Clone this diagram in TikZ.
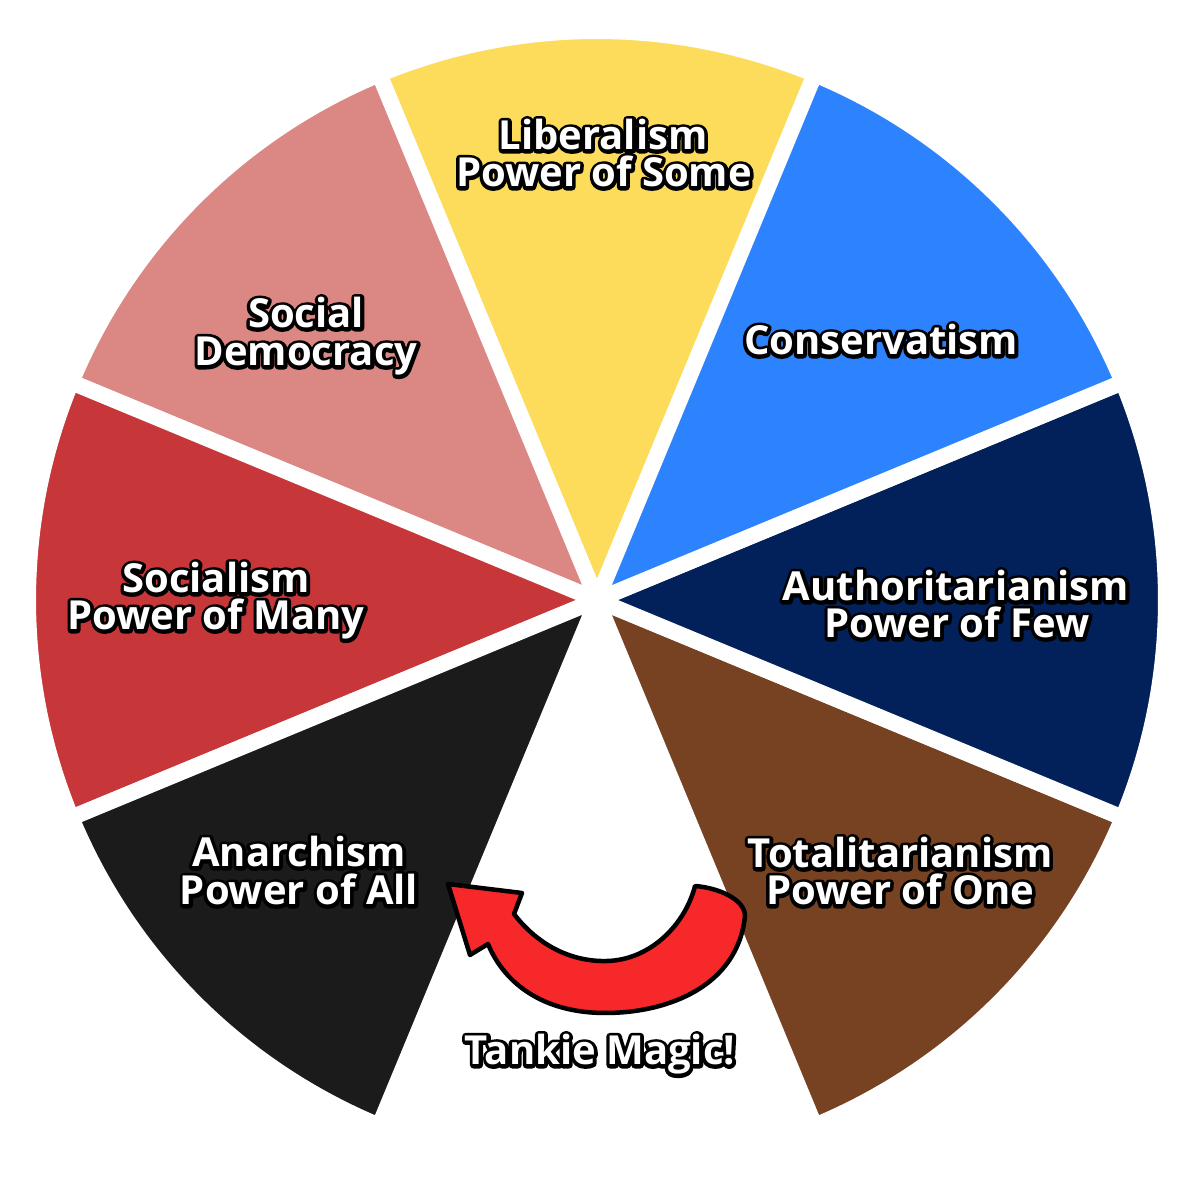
\documentclass[tikz,border=0pt]{standalone}
\usepackage{fontspec}
\setmainfont{Open Sans}
\usetikzlibrary{calc}

\definecolor{cpink}{HTML}{DB8784}
\definecolor{cyellow}{HTML}{FDDC5C}
\definecolor{cblue}{HTML}{2D82FE}
\definecolor{cnavy}{HTML}{02215A}
\definecolor{cbrown}{HTML}{764222}
\definecolor{cblack}{HTML}{1B1B1B}
\definecolor{cred}{HTML}{C73638}
\definecolor{carrow}{HTML}{F6282A}

\tikzset{
  wedge/.style={fill=#1, draw=white, line width=16pt, line join=miter},
  lbl/.style={anchor=base, inner sep=0pt, text=white,
              font=\bfseries\fontsize{40}{40}\selectfont},
}

% stroked (outline) rendering of a piece of text
\newcommand\rimtext[1]{%
  \special{pdf:literal direct q 2 Tr 7 w 1 j 0 G 0 g}#1\special{pdf:literal direct Q}}
% white text with a black rim
\newcommand\olabel[3]{%
  \node[lbl] (#1) at (#2) {\rlap{\color{black}\rimtext{#3}}#3};
}

\begin{document}
\begin{tikzpicture}[x=1pt,y=1pt]
  \fill[white] (0,0) rectangle (1200,1186);
  \useasboundingbox (0,0) rectangle (1200,1186);
  \coordinate (C) at (597,586);
  \def\R{569}

  % the seven wedges of the wheel
  \foreach \a/\b/\c in {67.5/112.5/cyellow, 112.5/157.5/cpink, 157.5/202.5/cred,
                        202.5/247.5/cblack, 292.5/337.5/cbrown, -22.5/22.5/cnavy,
                        22.5/67.5/cblue}
    \draw[wedge=\c] (C) -- ++(\a:\R) arc[start angle=\a, end angle=\b, radius=\R] -- cycle;

  % labels
  \olabel{lib1}{603,1036}{Liberalism}
  \olabel{lib2}{604,999}{Power of Some}
  \olabel{cons}{881,831}{Conservatism}
  \olabel{soc1}{306,858}{Social}
  \olabel{soc2}{306,820}{Democracy}
  \olabel{sla1}{216,593}{Socialism}
  \olabel{sla2}{216,556}{Power of Many}
  \olabel{aut1}{956,585}{Authoritarianism}
  \olabel{aut2}{957,548}{Power of Few}
  \olabel{ana1}{299,319}{Anarchism}
  \olabel{ana2}{299,281}{Power of All}
  \olabel{tot1}{900,318}{Totalitarianism}
  \olabel{tot2}{900,281}{Power of One}

  % curved arrow from Totalitarianism over to Anarchism
  \draw[fill=carrow, draw=black, line width=4.5pt, line join=round]
    (695,300) .. controls (720,298) and (745,286) .. (745,270)
    .. controls (738,201) and (670,173) .. (605,173)
    .. controls (545,173) and (505,201) .. (488,242)
    -- (470,231) -- (448,302) -- (522,293) -- (514,272)
    .. controls (540,238) and (575,224) .. (607,225)
    .. controls (650,226) and (685,261) .. (695,300) -- cycle;

  \olabel{magic}{600,121}{Tankie Magic!}
\end{tikzpicture}
\end{document}
